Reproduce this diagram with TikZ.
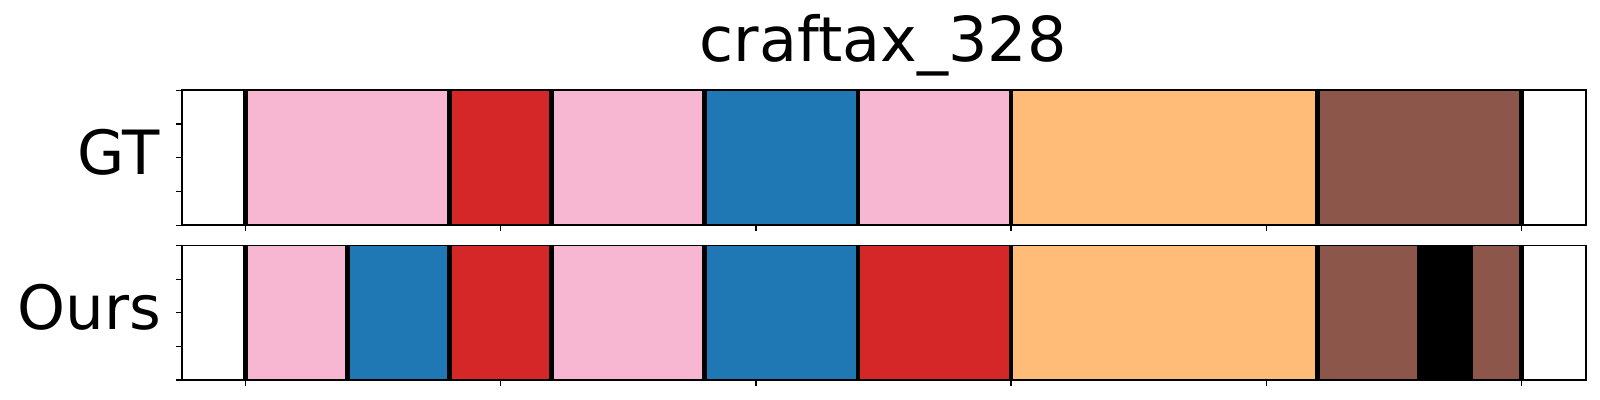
\documentclass[tikz,border=0pt]{standalone}
\usepackage{fontspec}
\setmainfont{DejaVu Sans}
\definecolor{tpink}{HTML}{F7B6D2}
\definecolor{tred}{HTML}{D62728}
\definecolor{tblue}{HTML}{1F77B4}
\definecolor{torange}{HTML}{FFBB78}
\definecolor{tbrown}{HTML}{8C564B}
\tikzset{
  bigtext/.style={inner sep=0pt, font=\fontsize{30.5pt}{36pt}\selectfont},
  titletext/.style={inner sep=0pt, font=\fontsize{31pt}{37pt}\selectfont},
  frameline/.style={draw=black, line width=0.8pt},
  boundline/.style={draw=black, line width=2.4pt},
  tickline/.style={draw=black, line width=0.6pt}
}
\newcommand{\xu}[1]{245.7+255.1*#1}
\begin{document}
\begin{tikzpicture}[x=0.5pt,y=-0.5pt]
\useasboundingbox (0,0) rectangle (1600,400);
% GT row (top 90.3, bottom 225.3)
\foreach \a/\b/\c in {0/0.8/tpink,0.8/1.2/tred,1.2/1.8/tpink,1.8/2.4/tblue,2.4/3.0/tpink,3.0/4.2/torange,4.2/5.0/tbrown}
  \fill[\c] ({\xu{\a}},90.3) rectangle ({\xu{\b}},225.3);
\foreach \a in {0,0.8,1.2,1.8,2.4,3.0,4.2,5.0}
  \draw[boundline] ({\xu{\a}},90.3) -- ({\xu{\a}},225.3);
% Ours row (top 245.7, bottom 380)
\foreach \a/\b/\c in {0/0.4/tpink,0.4/0.8/tblue,0.8/1.2/tred,1.2/1.8/tpink,1.8/2.4/tblue,2.4/3.0/tred,3.0/4.2/torange,4.2/4.6/tbrown,4.6/4.8/black,4.8/5.0/tbrown}
  \fill[\c] ({\xu{\a}},245.7) rectangle ({\xu{\b}},380);
\foreach \a in {0,0.4,0.8,1.2,1.8,2.4,3.0,4.2,4.6,4.8,5.0}
  \draw[boundline] ({\xu{\a}},245.7) -- ({\xu{\a}},380);
% frames
\draw[frameline] (181.7,90.3) rectangle (1585.7,225.3);
\draw[frameline] (181.7,245.7) rectangle (1585.7,380);
% ticks
\foreach \t in {90.3,124.05,157.8,191.55,225.3,245.7,279.3,312.85,346.4,380}
  \draw[tickline] (181.7,\t) -- ++(-5.7,0);
\foreach \k in {0,1,2,3,4,5}{
  \draw[tickline] ({\xu{\k}},225.3) -- ++(0,5.7);
  \draw[tickline] ({\xu{\k}},380) -- ++(0,5.7);
}
% texts
\node[titletext, anchor=base] (title) at (883.2,61.5) {craftax\_328};
\node[bigtext, anchor=base east] (gt) at (160.5,175) {GT};
\node[bigtext, anchor=base east] (ours) at (161.5,330) {Ours};
\end{tikzpicture}
\end{document}
